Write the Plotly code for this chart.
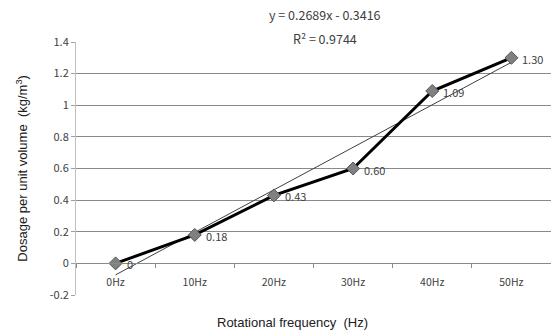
import plotly.graph_objects as go

categories = ["0Hz", "10Hz", "20Hz", "30Hz", "40Hz", "50Hz"]
dosage = [0, 0.18, 0.43, 0.60, 1.09, 1.30]
labels = ["0", "0.18", "0.43", "0.60", "1.09", "1.30"]
slope = 0.2689
intercept = -0.3416
r2 = 0.9744

xpos = list(range(1, len(categories) + 1))
trend_x = [xpos[0], xpos[-1]]
trend_y = [slope * v + intercept for v in trend_x]

LABEL_FONT = "Noto Sans CJK KR, DejaVu Sans"

fig = go.Figure()
fig.add_trace(go.Scatter(
    x=trend_x, y=trend_y, mode="lines",
    line=dict(color="#404040", width=1), hoverinfo="skip", showlegend=False,
))
fig.add_trace(go.Scatter(
    x=xpos, y=dosage, mode="lines+markers",
    line=dict(color="black", width=3),
    marker=dict(symbol="diamond", size=10, color="#808080",
                line=dict(color="#555555", width=1)),
    showlegend=False,
))

annotations = []
for xv, yv, lab in zip(xpos, dosage, labels):
    annotations.append(dict(
        text=lab, x=xv, y=yv, xref="x", yref="y",
        xanchor="left", yanchor="middle", xshift=9, yshift=-1,
        showarrow=False,
        font=dict(family=LABEL_FONT, size=11, color="#404040"),
    ))

annotations += [
    dict(text="y = 0.2689x - 0.3416", xref="paper", yref="paper",
         x=0.525, y=1.107, xanchor="center", yanchor="middle", showarrow=False,
         font=dict(family=LABEL_FONT, size=12.5, color="#404040")),
    dict(text="R² = %.4f" % r2, xref="paper", yref="paper",
         x=0.525, y=1.012, xanchor="center", yanchor="middle", showarrow=False,
         font=dict(family=LABEL_FONT, size=12.5, color="#404040")),
    dict(text="Rotational frequency  (Hz)", xref="paper", yref="paper",
         x=0.456, y=-0.11, xanchor="center", yanchor="middle", showarrow=False,
         font=dict(family="Liberation Sans, Arial", size=13, color="#202020")),
    dict(text="Dosage per unit volume  (kg/m<sup>3</sup>)", xref="paper", yref="paper",
         x=-0.1155, y=0.5, xanchor="center", yanchor="middle", showarrow=False,
         textangle=-90,
         font=dict(family="Liberation Sans, Arial", size=13, color="#202020")),
]

fig.update_layout(
    width=551, height=333,
    margin=dict(l=76, r=0, t=42, b=38),
    plot_bgcolor="white", paper_bgcolor="white",
    xaxis=dict(
        range=[0.5, 6.5], tickvals=xpos, ticktext=categories,
        anchor="free", position=0.2 / 1.6,
        showline=True, linecolor="#8a8a8a", linewidth=1,
        showgrid=False, zeroline=False, ticks="",
        ticklabelstandoff=9,
        minor=dict(tick0=0.5, dtick=1, ticks="outside", ticklen=4,
                   tickcolor="#8a8a8a", showgrid=False),
        tickfont=dict(family=LABEL_FONT, size=10.5, color="#404040"),
    ),
    yaxis=dict(
        range=[-0.2, 1.4], tickvals=[-0.2, 0, 0.2, 0.4, 0.6, 0.8, 1, 1.2, 1.4],
        ticktext=["-0.2", "0", "0.2", "0.4", "0.6", "0.8", "1", "1.2", "1.4"],
        showgrid=False, zeroline=False,
        showline=True, linecolor="#c0c0c0", linewidth=1,
        ticks="outside", ticklen=4, tickcolor="#a0a0a0",
        tickfont=dict(family=LABEL_FONT, size=11, color="#404040"),
    ),
    yaxis2=dict(
        range=[-0.2, 1.4], overlaying="y", side="left",
        tickvals=[0.2, 0.4, 0.6, 0.8, 1.0, 1.2],
        showgrid=True, gridcolor="#8a8a8a", gridwidth=1,
        showticklabels=False, ticks="", zeroline=False, showline=False,
    ),
    annotations=annotations,
)
fig.add_trace(go.Scatter(x=[None], y=[None], yaxis="y2", showlegend=False, hoverinfo="skip"))

fig.write_html("out.html")
